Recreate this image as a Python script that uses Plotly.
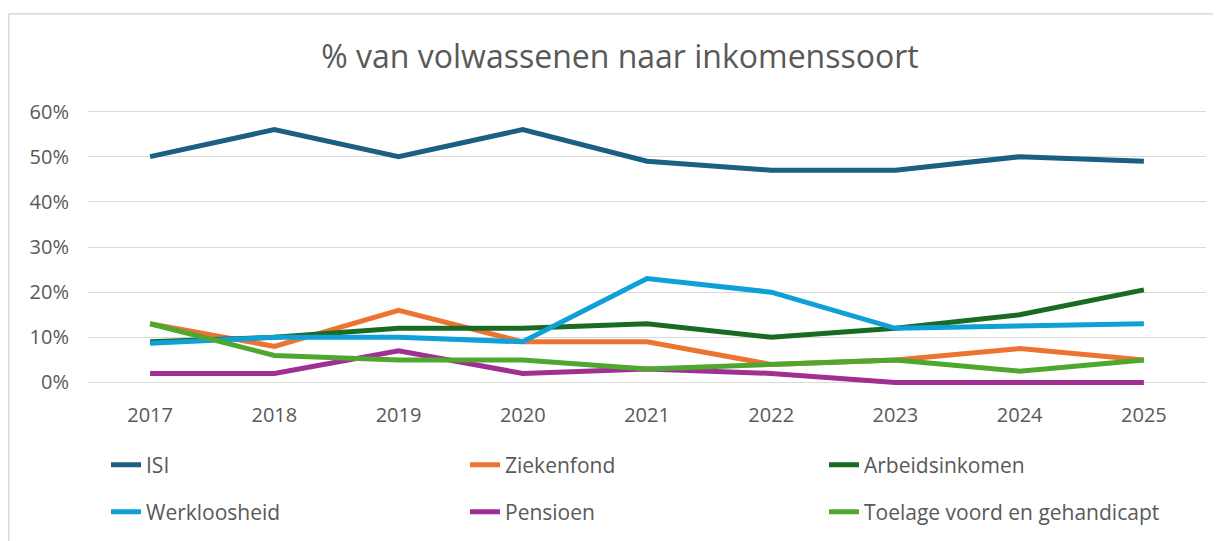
import plotly.graph_objects as go

years = ["2017", "2018", "2019", "2020", "2021", "2022", "2023", "2024", "2025"]
isi = [50, 56, 50, 56, 49, 47, 47, 50, 49]
ziekenfond = [13, 8, 16, 9, 9, 4, 5, 7.5, 5]
arbeidsinkomen = [9, 10, 12, 12, 13, 10, 12, 15, 20.5]
werkloosheid = [8.7, 10, 10, 9, 23, 20, 12, 12.5, 13]
pensioen = [2, 2, 7, 2, 3, 2, 0, 0, 0]
toelage = [13, 6, 5, 5, 3, 4, 5, 2.5, 5]
y_ticks = [0, 10, 20, 30, 40, 50, 60]
y_labels = ["0%", "10%", "20%", "30%", "40%", "50%", "60%"]

series = [
    ("ISI", isi, "#1b5f82", "legend"),
    ("Ziekenfond", ziekenfond, "#ed7333", "legend"),
    ("Arbeidsinkomen", arbeidsinkomen, "#1a6b22", "legend"),
    ("Werkloosheid", werkloosheid, "#0fa0d7", "legend2"),
    ("Pensioen", pensioen, "#a02f93", "legend2"),
    ("Toelage voord en gehandicapt", toelage, "#50a72f", "legend2"),
]

fig = go.Figure()
for name, vals, color, lg in series:
    fig.add_trace(go.Scatter(
        x=years, y=vals, name=name, mode="lines",
        line=dict(color=color, width=5), legend=lg,
    ))

# page has an 8px body margin; figure sized to fit the window
OFF = 8
W, H = 1221 - OFF, 541 - OFF
L, R = 88 - OFF, 1206 - OFF
T, B = 106.5 - OFF, 387.5 - OFF
pw, ph = R - L, B - T

font = "Open Sans, Liberation Sans, sans-serif"
grey = "#595959"

legend_common = dict(
    orientation="h", xref="container", yref="container",
    xanchor="left", yanchor="middle", entrywidth=314, entrywidthmode="pixels",
    font=dict(family=font, size=21, color=grey), bgcolor="rgba(0,0,0,0)",
    traceorder="normal",
)

fig.update_layout(
    width=W, height=H,
    margin=dict(l=L, r=W - R, t=T, b=H - B, autoexpand=False),
    paper_bgcolor="white", plot_bgcolor="white",
    title=dict(text="% van volwassenen naar inkomenssoort", x=(620 - OFF) / W,
               xanchor="center", xref="container",
               y=1 - (57 - OFF) / H, yanchor="middle", yref="container",
               font=dict(family=font, size=32, color=grey)),
    xaxis=dict(type="category", range=[-0.5, 8.5], showgrid=False, zeroline=False,
               showline=False, ticks="outside", ticklen=10, tickcolor="rgba(0,0,0,0)",
               automargin=False,
               tickfont=dict(family=font, size=20, color=grey)),
    yaxis=dict(range=[-1, 61], tickvals=y_ticks, ticktext=y_labels,
               showgrid=True, gridcolor="#d9d9d9", gridwidth=1.3, zeroline=False,
               showline=False, ticks="outside", ticklen=14, tickcolor="rgba(0,0,0,0)",
               automargin=False,
               tickfont=dict(family=font, size=20, color=grey)),
    legend=dict(x=(146 - OFF - 40) / W, y=1 - (465 - OFF) / H, **legend_common),
    legend2=dict(x=(146 - OFF - 40) / W, y=1 - (512 - OFF) / H, **legend_common),
    showlegend=True,
)

# outer chart border (top and left edges)
bx = (0.8 - L) / pw
by_top = (B - (13 - OFF)) / ph
by_bot = (B - H - 5) / ph
fig.add_shape(type="line", xref="paper", yref="paper", x0=bx, x1=(W + 5 - L) / pw,
              y0=by_top, y1=by_top, line=dict(color="#d9d9d9", width=1.5))
fig.add_shape(type="line", xref="paper", yref="paper", x0=bx, x1=bx,
              y0=by_top, y1=by_bot, line=dict(color="#d9d9d9", width=1.5))

fig.write_html("out.html")
